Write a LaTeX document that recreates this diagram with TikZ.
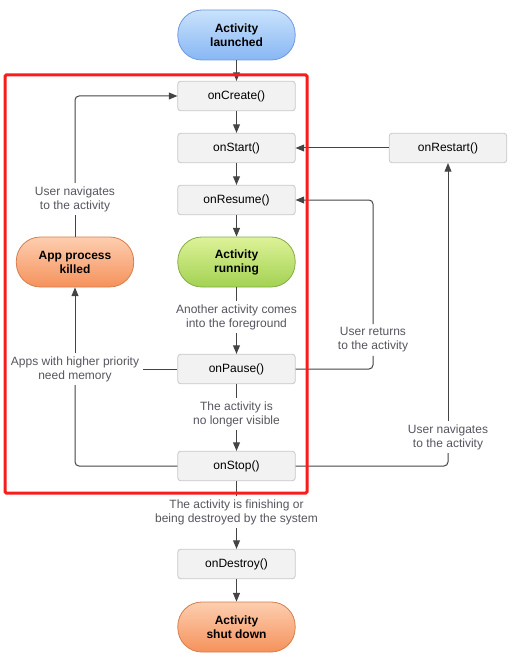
\documentclass[tikz,border=0pt]{standalone}
\usepackage{fontspec}
\setmainfont{Liberation Sans}
\usetikzlibrary{arrows.meta}
\definecolor{LineGray}{RGB}{68,68,68}
\definecolor{NoteGray}{RGB}{85,85,95}
\definecolor{BoxFill}{RGB}{242,242,242}
\definecolor{BoxDraw}{RGB}{200,200,200}
\definecolor{BlueTop}{RGB}{202,226,252}
\definecolor{BlueBot}{RGB}{135,183,244}
\definecolor{BlueDraw}{RGB}{112,152,225}
\definecolor{GreenTop}{RGB}{222,242,152}
\definecolor{GreenBot}{RGB}{162,210,82}
\definecolor{GreenDraw}{RGB}{132,172,72}
\definecolor{OrangeTop}{RGB}{253,206,176}
\definecolor{OrangeBot}{RGB}{245,146,92}
\definecolor{OrangeDraw}{RGB}{215,126,76}
\definecolor{FrameRed}{RGB}{250,28,28}
\newcommand{\diagfont}{\fontsize{9}{10.5}\selectfont}
\tikzset{
  callback/.style={draw=BoxDraw,fill=BoxFill,rounded corners=2pt,
    minimum width=88pt,minimum height=22pt,inner sep=2pt,line width=0.6pt},
  state/.style={rounded corners=18pt,minimum width=88pt,minimum height=37.5pt,
    align=center,font=\bfseries,line width=0.6pt},
  bluestate/.style={state,draw=BlueDraw,top color=BlueTop,bottom color=BlueBot},
  greenstate/.style={state,draw=GreenDraw,top color=GreenTop,bottom color=GreenBot},
  orangestate/.style={state,draw=OrangeDraw,top color=OrangeTop,bottom color=OrangeBot},
  note/.style={text=NoteGray,align=center,inner sep=2.5pt},
  flow/.style={draw=LineGray,line width=0.75pt,rounded corners=3pt},
  flowto/.style={flow,-{Triangle[length=6.5pt,width=5.2pt]}},
}
\newcommand{\cb}[3]{\node[callback] (#1) at #2 {#3};}

\begin{document}
\begin{tikzpicture}[x=0.75pt,y=-0.75pt]
  \path[use as bounding box] (0,0) rectangle (513,663);
  \diagfont

  % states
  \node[bluestate] (launched) at (236.5,35) {Activity\\launched};
  \node[greenstate] (running) at (236.5,262) {Activity\\running};
  \node[orangestate] (killed) at (75,262) {App process\\killed};
  \node[orangestate] (shutdown) at (236.5,627) {Activity\\shut down};

  % callbacks
  \cb{create}{(236.5,96)}{onCreate()}
  \cb{start}{(236.5,148)}{onStart()}
  \cb{resume}{(236.5,200)}{onResume()}
  \cb{pause}{(236.5,369)}{onPause()}
  \cb{stop}{(236.5,466)}{onStop()}
  \cb{destroy}{(236.5,564)}{onDestroy()}
  \cb{restart}{(448,148)}{onRestart()}

  % notes
  \node[note] (fg) at (236.5,317) {Another activity comes\\into the foreground};
  \node[note] (hidden) at (236.5,414) {The activity is\\no longer visible};
  \node[note] (finish) at (236.5,512) {The activity is finishing or\\being destroyed by the system};
  \node[note] (navleft) at (75,199) {User navigates\\to the activity};
  \node[note] (memory) at (75,369) {Apps with higher priority\\need memory};
  \node[note] (returns) at (373,340) {User returns\\to the activity};
  \node[note] (navright) at (448,437) {User navigates\\to the activity};

  % main column
  \draw[flowto] (launched) -- (create);
  \draw[flowto] (create) -- (start);
  \draw[flowto] (start) -- (resume);
  \draw[flowto] (resume) -- (running);
  \draw[flow] (running) -- (fg);
  \draw[flowto] (fg) -- (pause);
  \draw[flow] (pause) -- (hidden);
  \draw[flowto] (hidden) -- (stop);
  \draw[flow] (stop) -- (finish);
  \draw[flowto] (finish) -- (destroy);
  \draw[flowto] (destroy) -- (shutdown);

  % right side
  \draw[flowto] (restart) -- (start);
  \draw[flow] (pause.east) -| (returns.south);
  \draw[flowto] (returns.north) |- (resume.east);
  \draw[flow] (stop.east) -| (navright.south);
  \draw[flowto] (navright.north) -- (restart.south);

  % left side
  \draw[flow] (pause.west) -- (memory.east |- pause.west);
  \draw[flow] (stop.west) -| (memory.south);
  \draw[flowto] (memory.north) -- (killed.south);
  \draw[flow] (killed.north) -- (navleft.south);
  \draw[flowto] (navleft.north) |- (create.west);

  \draw[FrameRed,line width=2.25pt,rounded corners=1pt] (5,75) rectangle (307,493);
\end{tikzpicture}
\end{document}
